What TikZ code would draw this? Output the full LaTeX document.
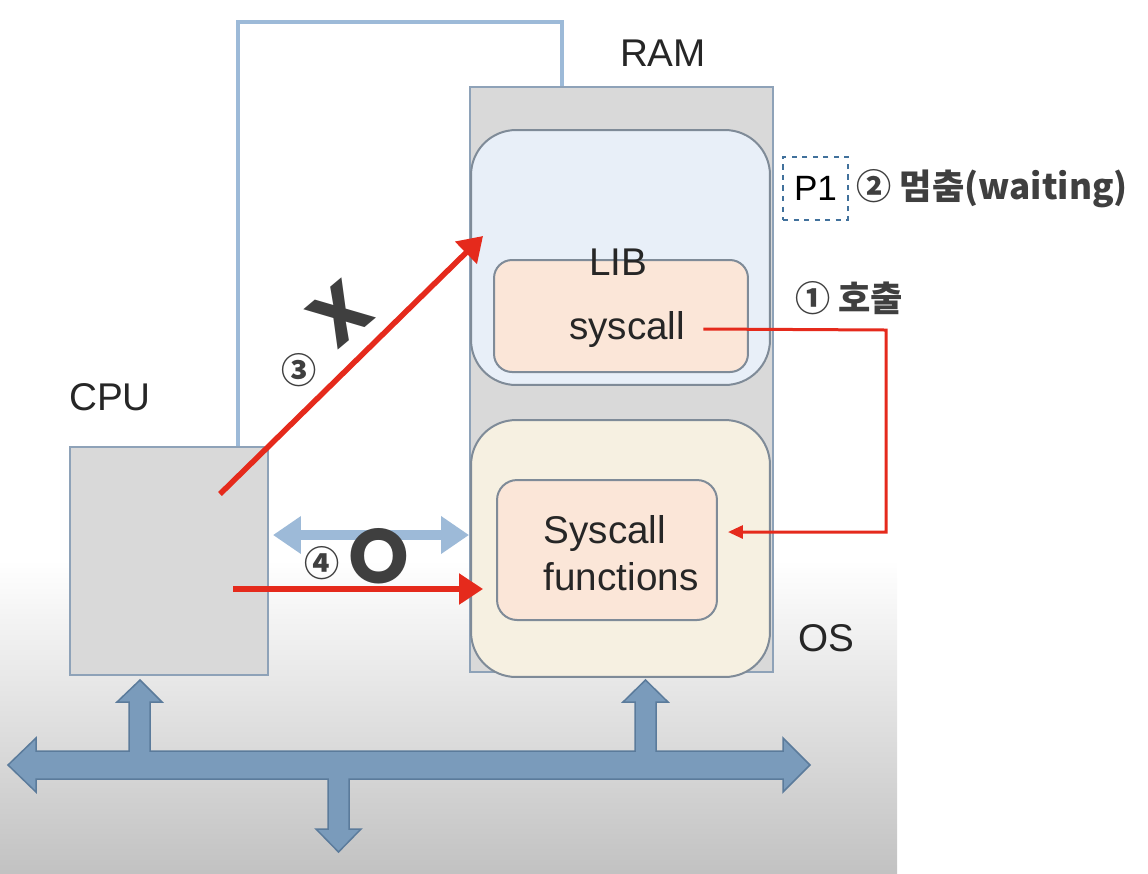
\documentclass[tikz,border=0pt]{standalone}
\usepackage{fontspec}
\setmainfont{Liberation Sans}
\newfontfamily\krfont{Noto Sans CJK KR}
\newfontfamily\markfont{Poppins}
\usetikzlibrary{arrows.meta,calc,positioning}
\definecolor{memgray}{HTML}{D9D9D9}
\definecolor{edgeblue}{HTML}{8EA2B8}
\definecolor{roundedge}{HTML}{7F8B98}
\definecolor{libblue}{HTML}{E8EFF8}
\definecolor{oscream}{HTML}{F6F0E1}
\definecolor{fnpeach}{HTML}{FBE6D8}
\definecolor{linkblue}{HTML}{9DBAD8}
\definecolor{callred}{HTML}{E52A1C}
\definecolor{busfill}{HTML}{7A9BBB}
\definecolor{busedge}{HTML}{5B7B9B}
\definecolor{notegray}{HTML}{3F3F3F}
\definecolor{dashblue}{HTML}{41719C}

\begin{document}
\begin{tikzpicture}[x=0.02cm,y=-0.02cm,
		box/.style={draw=edgeblue,fill=memgray,line width=0.04cm,inner sep=0pt},
		rbox/.style={draw=roundedge,line width=0.04cm,inner sep=0pt},
		lbl/.style={inner sep=0pt,font=\fontsize{22}{26.5}\selectfont,text=black!85},
		note/.style={inner sep=0pt,text=notegray,font=\krfont\bfseries\fontsize{20}{24}\selectfont},
		redarr/.style={draw=callred,line width=0.11cm,-{Triangle[length=0.48cm,width=0.6cm]}},
	]
		\useasboundingbox (0,0) rectangle (1148,873);
		\shade[top color=white,bottom color=black!24] (0,560) rectangle (897,873);

		% memory and processor
		\node[box,minimum width=6.06cm,minimum height=11.7cm] (ram) at (621.5,379.5) {};
		\node[box,minimum width=3.96cm,minimum height=4.56cm] (cpu) at (169,561) {};
		\node[rbox,fill=libblue,rounded corners=0.9cm,minimum width=5.98cm,minimum height=5.1cm] (lib) at (620.5,257.5) {};
		\node[rbox,fill=oscream,rounded corners=0.9cm,minimum width=5.98cm,minimum height=5.14cm] (os) at (620.5,548.5) {};
		\node[rbox,fill=fnpeach,rounded corners=0.36cm,minimum width=5.08cm,minimum height=2.24cm] (sysbox) at (621,316) {};
		\node[rbox,fill=fnpeach,rounded corners=0.4cm,minimum width=4.4cm,minimum height=2.8cm] (sysfn) at (607,550) {};

		\node[lbl] (ramlbl) at (663,53) {RAM};
		\node[lbl] (cpulbl) at (110,397) {CPU};
		\node[lbl] (oslbl) at (826,638) {OS};
		\node[lbl] (liblbl) at (618,262) {LIB};
		\node[lbl,inner xsep=0.36cm] (systext) at (627,329) {syscall};
		\node[lbl,align=left] (fntext) at (621,553) {Syscall\\functions};

		\node[draw=dashblue,dashed,line width=0.05cm,minimum width=1.3cm,minimum height=1.26cm,
			inner sep=0pt,font=\fontsize{20}{24}\selectfont] (p1) at (815.5,188.5) {P1};
		\node[note,anchor=west,right=0.14cm of p1] (wait) {② 멈춤(waiting)};
		\node[note] (call) at (849,298) {① 호출};

		% links
		\coordinate (ramtap) at (562,22);
		\draw[linkblue,line width=0.07cm] ($(cpu.north east)+(-31,0)$) |- (ramtap) -- (ramtap |- ram.north);
		\coordinate (dl) at ($(cpu.east)+(4,-26)$);
		\draw[linkblue,line width=0.2cm,{Triangle[length=0.56cm,width=0.72cm]}-{Triangle[length=0.56cm,width=0.72cm]}]
			(dl) -- (dl -| ram.west);

		\coordinate (turn) at (886,330);
		\draw[callred,line width=0.06cm,-{Triangle[length=0.3cm,width=0.26cm]}]
			(systext.east) -- (turn) |- ($(sysfn.east)+(10,-18)$);
		\draw[redarr] ($(cpu.center)+(51,-67)$) -- ($(lib.west)+(13,-21.5)$);
		\draw[redarr] ($(cpu.center)+(64,28)$) -- ($(sysfn.west)+(-13,39)$);

		\node[note,font=\markfont\bfseries\fontsize{43}{43}\selectfont,rotate=40] (cross) at (340,314) {X};
		\node[note] (three) at (299,370) {③};
		\node[note,font=\markfont\bfseries\fontsize{44}{44}\selectfont] (circ) at (379,556) {O};
		\node[note] (four) at (322,563) {④};

		% system bus
		\filldraw[fill=busfill,draw=busedge,line width=0.03cm]
			(8,765) -- (36,738) -- (36,751)
			-- (129,751) -- (129,702) -- (117,702) -- (140,680) -- (162,702) -- (150,702) -- (150,751)
			-- (635,751) -- (635,702) -- (623,702) -- (645.5,680) -- (668,702) -- (656,702) -- (656,751)
			-- (783,751) -- (783,738) -- (810,765) -- (783,792) -- (783,779)
			-- (349,779) -- (349,829) -- (361,829) -- (338.5,852) -- (316,829) -- (328,829) -- (328,779)
			-- (36,779) -- (36,792) -- cycle;
	\end{tikzpicture}
\end{document}
